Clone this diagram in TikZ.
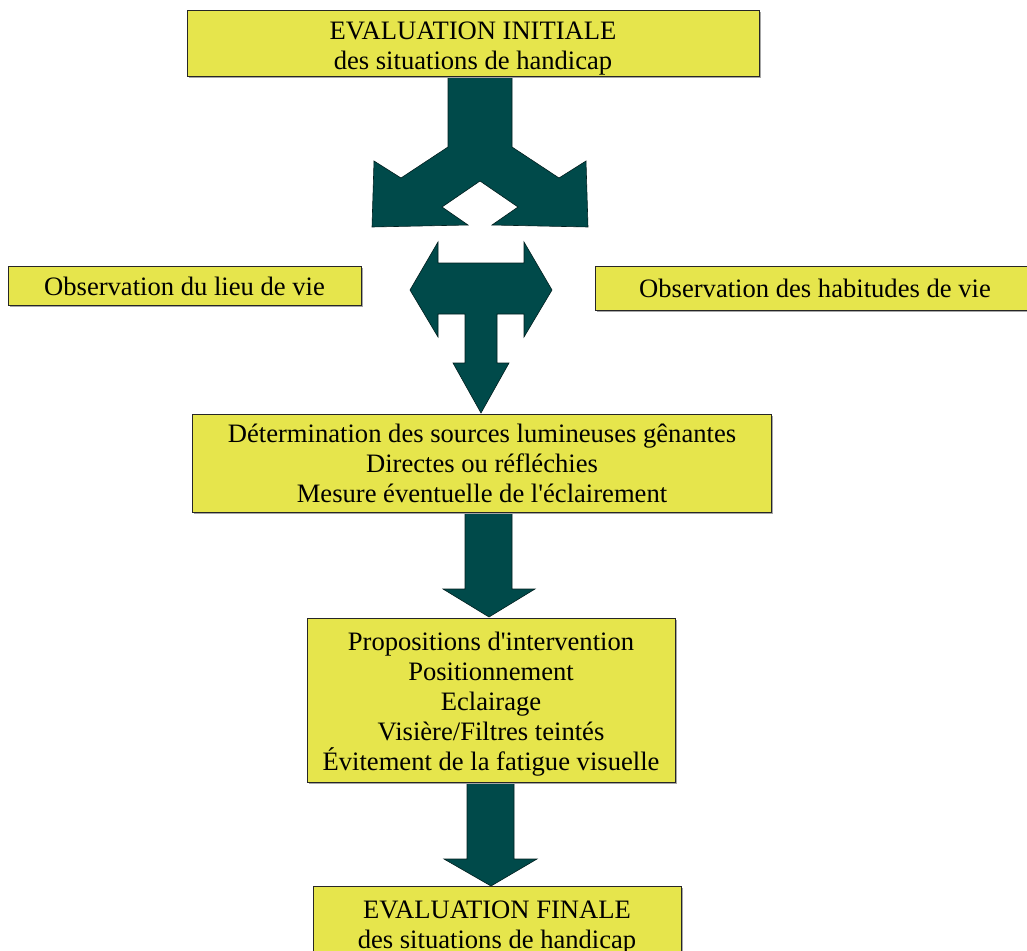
\documentclass[tikz,border=0pt]{standalone}
\usepackage{fontspec}
\setmainfont{Liberation Serif}
\usetikzlibrary{shadows}
\definecolor{boxyellow}{RGB}{230,229,76}
\definecolor{arrowteal}{RGB}{0,74,74}
\begin{document}
\begin{tikzpicture}[x=1pt,y=-1pt,
  box/.style={draw=black!85, line width=0.9pt, fill=boxyellow,
    general shadow={fill=gray!70, shadow xshift=1.6pt, shadow yshift=-1.6pt},
    align=center, inner sep=0pt, font=\fontsize{26.6}{30}\selectfont},
  blockarrow/.style={fill=arrowteal, draw=black!60!arrowteal, line width=0.6pt, line join=miter}]
\useasboundingbox (0,0) rectangle (1027,950);
\clip (0,0) rectangle (1027,950);

% block arrows
\draw[blockarrow] (448,76) -- (448,147) -- (401,178) -- (374,161) -- (372,227) -- (468,225) -- (442,207) -- (480,181) -- (518,207) -- (492,225) -- (588,227) -- (586,161) -- (559,178) -- (512,147) -- (512,76) -- cycle;
\draw[blockarrow] (410,290) -- (438,242) -- (438,263) -- (524,263) -- (524,242) -- (552,290) -- (524,337) -- (524,314) -- (497,314) -- (497,363) -- (509,363) -- (481,413) -- (453,363) -- (465,363) -- (465,314) -- (438,314) -- (438,337) -- cycle;
\draw[blockarrow] (465,512) -- (465,589) -- (443,589) -- (489,617) -- (535,589) -- (512,589) -- (512,512) -- cycle;
\draw[blockarrow] (467,782) -- (467,859) -- (444,859) -- (491,886) -- (537,859) -- (514,859) -- (514,782) -- cycle;

% boxes
\node[box, minimum width=572pt, minimum height=66pt] (top) at (473,43) {\rule{0pt}{28pt}EVALUATION INITIALE\\des situations de handicap};
\node[box, minimum width=353pt, minimum height=39pt] (left) at (184.5,286) {Observation du lieu de vie};
\node[box, minimum width=440pt, minimum height=44pt] (right) at (815,288.5) {Observation des habitudes de vie};
\node[box, minimum width=579pt, minimum height=98pt] (mid) at (482,463) {Détermination des sources lumineuses gênantes\\Directes ou réfléchies\\Mesure éventuelle de l\textquotesingle éclairement};
\node[box, minimum width=368pt, minimum height=164pt] (prop) at (491,700) {\rule{0pt}{26pt}Propositions d\textquotesingle intervention\\Positionnement\\Eclairage\\Visière/Filtres teintés\\Évitement de la fatigue visuelle};
\node[box, minimum width=368pt, minimum height=72pt] (final) at (497,922) {\rule{0pt}{28pt}EVALUATION FINALE\\des situations de handicap};
\end{tikzpicture}
\end{document}
